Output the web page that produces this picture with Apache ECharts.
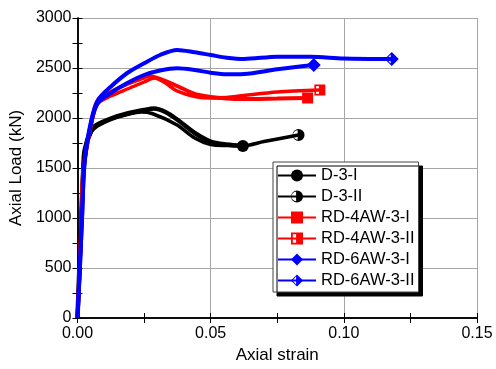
<!DOCTYPE html>
<html>
<head>
<meta charset="utf-8">
<script src="https://cdn.jsdelivr.net/npm/echarts@6/dist/echarts.min.js"></script>
<style>
  html, body { margin: 0; padding: 0; background: #fff; }
  #chart { width: 496px; height: 369px; }
</style>
</head>
<body>
<div id="chart"></div>
<script>
const seriesNames = ['D-3-I', 'D-3-II', 'RD-4AW-3-I', 'RD-4AW-3-II', 'RD-6AW-3-I', 'RD-6AW-3-II'];

const d3iStrain = [0, 0.0007, 0.0014, 0.0021, 0.0027, 0.0052, 0.0075, 0.0125, 0.0187, 0.025, 0.0287, 0.033, 0.0374, 0.044, 0.05, 0.056, 0.0621];
const d3iLoad   = [0, 500, 1000, 1450, 1680, 1880, 1935, 1995, 2045, 2080, 2095, 2060, 1985, 1850, 1765, 1735, 1720];

const d3iiStrain = [0, 0.0007, 0.0014, 0.0021, 0.0027, 0.0052, 0.0075, 0.0125, 0.0187, 0.024, 0.028, 0.0374, 0.044, 0.05, 0.056, 0.0621, 0.07, 0.083];
const d3iiLoad   = [0, 500, 1000, 1430, 1660, 1860, 1920, 1985, 2035, 2060, 2045, 1930, 1800, 1735, 1725, 1722, 1765, 1830];

const rd4iStrain = [0, 0.0008, 0.0015, 0.0022, 0.0052, 0.0075, 0.0125, 0.0187, 0.025, 0.027, 0.031, 0.0374, 0.044, 0.05, 0.056, 0.0625, 0.075, 0.0864];
const rd4iLoad   = [0, 500, 1000, 1480, 1950, 2170, 2260, 2340, 2405, 2420, 2390, 2320, 2240, 2210, 2195, 2190, 2195, 2200];

const rd4iiStrain = [0, 0.0008, 0.0015, 0.0022, 0.0052, 0.0075, 0.0125, 0.0187, 0.025, 0.029, 0.033, 0.0374, 0.044, 0.05, 0.056, 0.0625, 0.075, 0.091];
const rd4iiLoad   = [0, 500, 1000, 1470, 1940, 2140, 2220, 2290, 2360, 2400, 2350, 2270, 2215, 2200, 2205, 2225, 2260, 2280];

const rd6iStrain = [0, 0.0009, 0.0017, 0.0027, 0.0052, 0.0077, 0.0125, 0.0187, 0.025, 0.031, 0.0374, 0.044, 0.05, 0.056, 0.0625, 0.075, 0.0887];
const rd6iLoad   = [0, 500, 1000, 1560, 1960, 2150, 2250, 2350, 2430, 2475, 2497, 2480, 2453, 2437, 2440, 2487, 2530];

const rd6iiStrain = [0, 0.0009, 0.0017, 0.0027, 0.0052, 0.0077, 0.0125, 0.0187, 0.025, 0.031, 0.0374, 0.044, 0.05, 0.056, 0.0625, 0.075, 0.0875, 0.1, 0.118];
const rd6iiLoad   = [0, 500, 1000, 1580, 1980, 2180, 2313, 2450, 2547, 2630, 2680, 2657, 2630, 2603, 2590, 2613, 2613, 2595, 2590];

const xTicks = [0, 0.05, 0.1, 0.15];
const yTicks = [0, 500, 1000, 1500, 2000, 2500, 3000];

// half-filled markers: outline with the left half hollow
const halfCircle = 'path://M0,-10 A10,10 0 1,1 0,10 A10,10 0 1,1 0,-10 Z M-1.5,-7.8 A7.8,7.8 0 0,0 -1.5,7.8 Z';
const halfSquare = 'path://M-10,-10 L10,-10 L10,10 L-10,10 Z M-1.5,-7 L-7,-7 L-7,7 L-1.5,7 Z';
const halfDiamond = 'path://M0,-10 L10,0 L0,10 L-10,0 Z M-1.5,-6.5 L-7.5,0 L-1.5,6.5 Z';

const font = 'Liberation Sans, Arial, sans-serif';

function pairs(xs, ys) {
  const last = xs.length - 1;
  return xs.map((x, i) => (i === last ? [x, ys[i]] : { value: [x, ys[i]], symbol: 'none' }));
}

function makeSeries(name, xs, ys, color, symbol, size, width) {
  return {
    name: name,
    type: 'line',
    data: pairs(xs, ys),
    smooth: 0.3,
    symbol: symbol,
    symbolSize: size,
    showAllSymbol: true,
    clip: true,
    lineStyle: { color: color, width: width },
    itemStyle: { color: color },
    emphasis: { disabled: true },
    z: 3,
  };
}

const chart = echarts.init(document.getElementById('chart'));

const xRange = { type: 'value', min: xTicks[0], max: xTicks[xTicks.length - 1] };
const yRange = { type: 'value', min: yTicks[0], max: yTicks[yTicks.length - 1] };

// axes that only carry the inward ticks (major + minor)
function tickAxis(range, position, interval, showLine) {
  return Object.assign({}, range, {
    position: position,
    interval: interval,
    axisLine: { show: showLine, lineStyle: { color: '#000', width: 1.5 } },
    axisTick: { show: true, inside: true, length: 5, lineStyle: { color: '#000', width: 1 } },
    axisLabel: { show: false },
    splitLine: { show: false },
  });
}

chart.setOption({
  animation: false,
  grid: { left: 76, right: 19, top: 18, bottom: 51, containLabel: false },
  legend: {
    data: seriesNames,
    orient: 'vertical',
    left: 273,
    top: 162,
    itemWidth: 38,
    itemHeight: 15,
    itemGap: 4,
    padding: [5, 4, 3, 4],
    backgroundColor: '#fff',
    borderColor: '#444',
    borderWidth: 1,
    shadowColor: '#000',
    shadowBlur: 0,
    shadowOffsetX: 4,
    shadowOffsetY: 4,
    selectedMode: false,
    textStyle: { fontFamily: font, fontSize: 16.5, lineHeight: 16, color: '#000' },
  },
  xAxis: [
    Object.assign({}, xRange, {
      position: 'bottom',
      interval: 0.05,
      name: 'Axial strain',
      nameLocation: 'middle',
      nameGap: 27,
      nameTextStyle: { fontFamily: font, fontSize: 17, color: '#000' },
      axisLine: { lineStyle: { color: '#000', width: 1.5 } },
      axisTick: { show: false },
      axisLabel: { fontFamily: font, fontSize: 16, color: '#000', margin: 8, formatter: (v) => v.toFixed(2) },
      splitLine: { show: true, lineStyle: { color: '#a6a6a6', width: 1 } },
    }),
    tickAxis(xRange, 'bottom', 0.025, false),
    tickAxis(xRange, 'top', 0.025, true),
  ],
  yAxis: [
    Object.assign({}, yRange, {
      position: 'left',
      interval: 500,
      name: 'Axial Load (kN)',
      nameLocation: 'middle',
      nameGap: 46,
      nameTextStyle: { fontFamily: font, fontSize: 17, color: '#000' },
      axisLine: { lineStyle: { color: '#000', width: 1.5 } },
      axisTick: { show: false },
      axisLabel: { fontFamily: font, fontSize: 16, color: '#000', margin: 6, formatter: (v) => String(v) },
      splitLine: { show: true, lineStyle: { color: '#a6a6a6', width: 1 } },
    }),
    tickAxis(yRange, 'left', 250, false),
    tickAxis(yRange, 'right', 250, true),
  ],
  series: [
    makeSeries(seriesNames[0], d3iStrain, d3iLoad, '#000000', 'circle', 12, 4.5),
    makeSeries(seriesNames[1], d3iiStrain, d3iiLoad, '#000000', halfCircle, 12, 3.5),
    makeSeries(seriesNames[2], rd4iStrain, rd4iLoad, '#ff0000', 'rect', 11, 4),
    makeSeries(seriesNames[3], rd4iiStrain, rd4iiLoad, '#ff0000', halfSquare, 11, 3.5),
    makeSeries(seriesNames[4], rd6iStrain, rd6iLoad, '#0000ff', 'diamond', 14, 4),
    makeSeries(seriesNames[5], rd6iiStrain, rd6iiLoad, '#0000ff', halfDiamond, 14, 4),
  ],
});
</script>
</body>
</html>
